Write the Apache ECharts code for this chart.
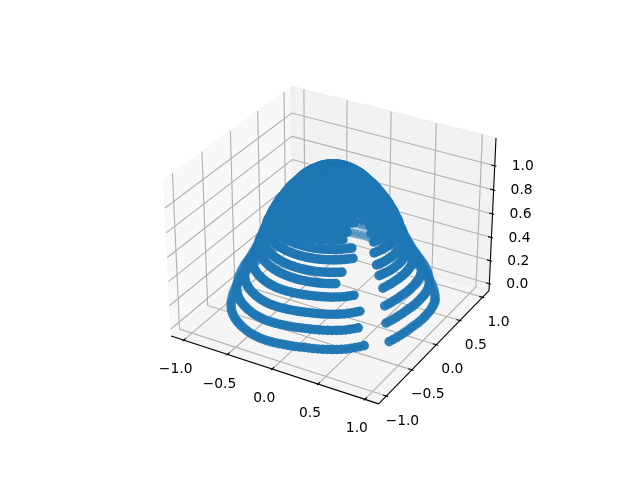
<!DOCTYPE html>
<html><head><meta charset="utf-8"><style>html,body{margin:0;background:#fff}#c{width:640px;height:480px}</style>
<script src="https://cdn.jsdelivr.net/npm/echarts@6/dist/echarts.min.js"></script></head><body><div id="c"></div>
<script>
const xTicks=[-1,-0.5,0,0.5,1];
const yTicks=[-1,-0.5,0,0.5,1];
const zTicks=[0,0.2,0.4,0.6,0.8,1];
const xLim=[-1.1,1.1], yLim=[-1.1,1.1], zLim=[-0.035,1.2];
const angleDeg=[-153,-150.5,-148,-145.5,-143,-140.5,-138,-135.5,-133,-130.5,-128,-125.5,-123,-120.5,-118,-115.5,-113,-110.5,-108,-105.5,-103,-100.5,-98,-95.5,-93,-90.5,-88,-85.5,-83,-80.5,-78,-75.5,-73,-70.5,-68,-65.5,-63,-60.5,-58,-55.5,-53,-50.5,-48,-45.5,-43,-40.5,-38,-35.5,-33,-30.5,-28,-25.5,-23,-20.5,-18,-15.5,-13,-10.5,-8,-5.5,-3,-0.5,2,4.5,7,9.5,12,14.5,17,19.5,22,24.5,27,29.5,32,34.5,37,39.5,42,44.5,47,49.5,52,54.5,57,59.5,62,64.5,67,69.5,72,74.5,77,79.5,82,84.5,87,89.5,92,94.5,97,99.5,102,104.5,107,109.5,112,114.5,117,119.5,122,124.5,127,129.5,132,134.5,137,139.5,142,144.5,147,149.5,152,154.5,157,159.5,162,164.5,167,169.5,172,174.5,177,179.5,182,184.5,187,189.5,192,194.5,197,199.5,202,204.5];
const liftShape=[0,.0025,.005,.0075,.01,.015,.02,.025,.03,.035,.04,.045,.05,.0525,.055,.0575,.06,.065,.07,.075,.08,.0875,.095,.1025,.11,.1175,.125,.13,.135,.14,.145,.15,.15,.15,.15,.15,.15,.15,.15,.15,
.15,.155,.16,.165,.17,.16,.15,.135,.12,
.125,.135,.145,.155,.165,.175,.18,.19,.195,.195,.195,.195,
.195,.195,.195,.19,.185,.18,.17,.16,.15,.135,.12,.105,
.105,.105,.11,.115,.12,.125,.13,.135,.14,.145,.15,.155,
.16,.17,.175,.18,.19,.195,.21,.22,.23,.235,.25,.26,
.265,.27,.28,.285,.29,.3,.305,.31,.32,.325,.325,.325,
.325,.325,.32,.31,.305,.3,.29,.285,.28,.27,.265,.26,
.25,.235,.22,.21,.195,.18,.17,.155,.14,.13,.115,.105,
.1,.09,.085,.08,.065,.05,.04,.03,.025,.015,.005];
const ringRadius=[1,.94,.86,.78,.72,.68,.64,.60,.56,.525,.48,.44,.40,.36,.32,.28,.24,.20,.16,.12,.08,.04];
const ringZ=[.025,.167,.275,.40,.52,.594,.678,.745,.8025,.844,.894,.936,.969,1.0025,1.036,1.061,1.082,1.1025,1.116,1.1275,1.136,1.143];
const ringLiftScale=[.55,.5,.45,.32,0,0,0,0,0,0,0,0,0,0,0,0,0,0,0,0,0,0];
const ringGapFrom=[-43,-44,-43,-45,-56,-53,-42.6,-41,-49.6,-45,-35,-35,-35,-35,-35,-35,-35,-35,-35,-35,-35,-35];
const ringGapTo=[-28,-28.5,-26,-23,-24,-25,-24,-22,-21,-19,-25,-25,-25,-25,-25,-25,-25,-25,-25,-25,-25,-25];

const D2R=Math.PI/180,el=30*D2R,az=-60*D2R,dist=10;
const nrm=Math.hypot(4,4,3),bf=1.8294640721620434/nrm,box=[4*bf,4*bf,3*bf];
const R=box.map(v=>v/2),ps=[Math.cos(el)*Math.cos(az),Math.cos(el)*Math.sin(az),Math.sin(el)];
const E=R.map((v,i)=>v+dist*ps[i]);
const dot=(a,b)=>a[0]*b[0]+a[1]*b[1]+a[2]*b[2];
const cross=(a,b)=>[a[1]*b[2]-a[2]*b[1],a[2]*b[0]-a[0]*b[2],a[0]*b[1]-a[1]*b[0]];
const unit=a=>{const n=Math.hypot(...a);return a.map(v=>v/n)};
const w=unit(ps),u=unit(cross([0,0,1],w)),v=cross(w,u);
function proj(p){
 const q=[(p[0]-xLim[0])/(xLim[1]-xLim[0])*box[0],(p[1]-yLim[0])/(yLim[1]-yLim[0])*box[1],(p[2]-zLim[0])/(zLim[1]-zLim[0])*box[2]];
 const r=[q[0]-E[0],q[1]-E[1],q[2]-E[2]],c=dot(w,r);
 return [dot(u,r)/-c,dot(v,r)/-c,10/c];
}
const dx=(xLim[1]-xLim[0])/48,dy=(yLim[1]-yLim[0])/48,dz=(zLim[1]-zLim[0])/48;
const X0=xLim[0]-dx,X1=xLim[1]+dx,Y0=yLim[0]-dy,Y1=yLim[1]+dy,Z0=zLim[0]-dz,Z1=zLim[1]+dz;
const P=p=>proj(p).slice(0,2);
const panes=[
 {pts:[[X0,Y0,Z0],[X0,Y1,Z0],[X0,Y1,Z1],[X0,Y0,Z1]],c:'rgba(242,242,242,0.5)'},
 {pts:[[X0,Y1,Z0],[X1,Y1,Z0],[X1,Y1,Z1],[X0,Y1,Z1]],c:'rgba(230,230,230,0.5)'},
 {pts:[[X0,Y0,Z0],[X1,Y0,Z0],[X1,Y1,Z0],[X0,Y1,Z0]],c:'rgba(236,236,236,0.5)'}
];
const grid=[];
xTicks.forEach(t=>{grid.push([[t,Y0,Z0],[t,Y1,Z0],[t,Y1,Z1]])});
yTicks.forEach(t=>{grid.push([[X1,t,Z0],[X0,t,Z0],[X0,t,Z1]])});
zTicks.forEach(t=>{grid.push([[X0,Y0,t],[X0,Y1,t],[X1,Y1,t]])});
const axisLines=[[[X0,Y0,Z0],[X1,Y0,Z0]],[[X1,Y0,Z0],[X1,Y1,Z0]],[[X1,Y1,Z0],[X1,Y1,Z1]]];
const tdx=(xLim[1]-xLim[0])/12,tdy=(yLim[1]-yLim[0])/12;
const tickLines=[];
xTicks.forEach(t=>tickLines.push([[t,Y0-.1*tdy,Z0],[t,Y0+.2*tdy,Z0]]));
yTicks.forEach(t=>tickLines.push([[X1+.1*tdx,t,Z0],[X1-.2*tdx,t,Z0]]));
zTicks.forEach(t=>tickLines.push([[X1+.1*tdx,Y1,t],[X1-.2*tdx,Y1,t]]));
const fmt=t=>t.toFixed(1).replace('-','\u2212');
const labels=[];
xTicks.forEach(t=>labels.push({p:[t,Y0,Z0],s:fmt(t),o:[-8,29.5]}));
yTicks.forEach(t=>labels.push({p:[X1,t,Z0],s:fmt(t),o:[16,25]}));
zTicks.forEach(t=>labels.push({p:[X1,Y1,t],s:fmt(t),o:[28,0.5]}));

const pts=[];
ringRadius.forEach((r,i)=>{
 angleDeg.forEach((a,j)=>{
  if(a>ringGapFrom[i]&&a<ringGapTo[i]) return;
  const t=a*D2R,z=ringZ[i]+liftShape[j]*r*ringLiftScale[i];
  pts.push(proj([r*Math.cos(t),r*Math.sin(t),z]));
 });
});
const zs=pts.map(q=>q[2]),zmin=Math.min(...zs),zmax=Math.max(...zs);
pts.sort((a,b)=>b[2]-a[2]);
const scatterData=pts.map(q=>({value:[q[0],q[1]],itemStyle:{opacity:1-0.55*(q[2]-zmin)/(zmax-zmin)}}));

const polyItem=(params,api)=>{const p=panes[params.dataIndex];
 return {type:'polygon',shape:{points:p.pts.map(q=>api.coord(P(q)))},style:{fill:p.c,stroke:p.c,lineWidth:1}}};
const lineItem=(arr,color)=>(params,api)=>({type:'polyline',shape:{points:arr[params.dataIndex].map(q=>api.coord(P(q)))},style:{stroke:color,fill:null,lineWidth:1.11}});
const rawIdx=n=>Array.from({length:n},(_,i)=>[i,0]);
const chart=echarts.init(document.getElementById('c'),null,{renderer:'canvas'});
const cust=(n,ri,z)=>({type:'custom',data:rawIdx(n),renderItem:ri,z,silent:true,clip:false,animation:false,encode:{x:0,y:1}});
chart.setOption({animation:false,backgroundColor:'#fff',
 grid:{left:143.2,top:57.6,width:369.6,height:369.6,containLabel:false},
 xAxis:{type:'value',min:-0.095,max:0.09,show:false},
 yAxis:{type:'value',min:-0.095,max:0.09,show:false},
 series:[
  cust(panes.length,polyItem,1),
  cust(grid.length,lineItem(grid,'#b0b0b0'),2),
  cust(axisLines.length,lineItem(axisLines,'#000'),3),
  cust(tickLines.length,lineItem(tickLines,'#000'),3),
  {type:'scatter',data:scatterData,symbol:'circle',symbolSize:9.6,z:4,silent:true,clip:false,large:false,itemStyle:{color:'#1f77b4'},animation:false},
  cust(labels.length,(params,api)=>{const l=labels[params.dataIndex],c=api.coord(P(l.p));
   return {type:'text',x:c[0]+l.o[0],y:c[1]+l.o[1],style:{text:l.s,font:'13.89px "DejaVu Sans"',fill:'#000',textAlign:'center',textVerticalAlign:'middle'}}},5)
 ]});
</script></body></html>
